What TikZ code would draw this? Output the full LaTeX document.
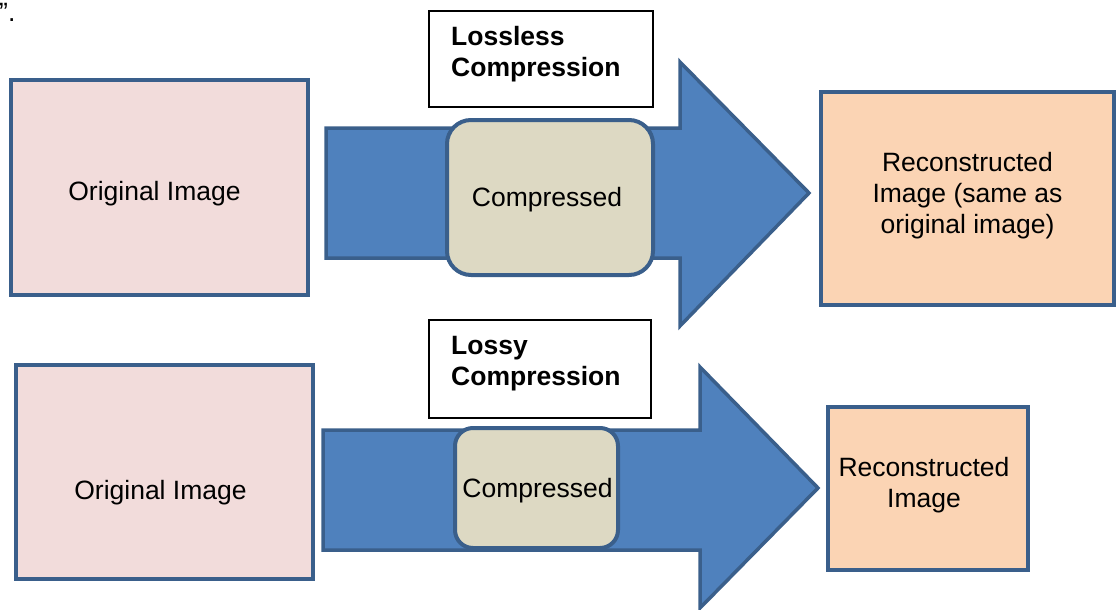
\documentclass[tikz,border=0pt]{standalone}
\usepackage{fontspec}
\setmainfont{Liberation Sans}
\usetikzlibrary{calc}
\definecolor{edgeblue}{HTML}{3A5F8B}
\definecolor{arrowblue}{HTML}{4F81BD}
\definecolor{pinkfill}{HTML}{F2DCDB}
\definecolor{peachfill}{HTML}{FBD4B4}
\definecolor{tanfill}{HTML}{DDD9C3}
\begin{document}
\begin{tikzpicture}[x=1pt,y=-1pt,
  every node/.style={font=\fontsize{26.5}{31}\selectfont, inner sep=0pt},
  every label/.style={font=\fontsize{26.5}{31}\selectfont, inner sep=0pt, align=center},
  imgbox/.style={draw=edgeblue, line width=3.2pt, rectangle},
  origbox/.style={imgbox, fill=pinkfill},
  reconbox/.style={imgbox, fill=peachfill},
  compbox/.style={draw=edgeblue, line width=4pt, fill=tanfill, rounded corners=#1},
  blockarrow/.style={draw=edgeblue, line width=3.5pt, fill=arrowblue, line join=miter},
  titlebox/.style={draw=black, line width=1.6pt, fill=white},
  titletext/.style={font=\fontsize{26.5}{31}\selectfont\bfseries, align=left, anchor=base west}
]
\useasboundingbox (0,0) rectangle (1116,610);

% trailing punctuation in the corner
\node[anchor=base west] (punct) at (-1,21.5) {”.};

% ---------- lossless row ----------
\node[origbox, minimum width=297, minimum height=215,
      label={[xshift=-5pt,yshift=-6.5pt]center:Original Image}] (orig1) at (159.5,187.5) {};

\draw[blockarrow] (326,128) -- (680,128) -- (680,62) -- (809,193)
  -- (680,326) -- (680,258) -- (326,258) -- cycle;

\node[compbox=24pt, minimum width=206, minimum height=155,
      label={[xshift=-3pt,yshift=-2pt]center:Compressed}] (comp1) at (550,197.5) {};

\node[titlebox, minimum width=224, minimum height=96] (lossless) at (541,59) {};
% anchored on the baseline of the last line
\node[titletext] (losslesstxt) at (451,77) {Lossless\\Compression};

\node[reconbox, minimum width=293, minimum height=213,
      label={[yshift=3pt]center:Reconstructed\\Image (same as\\original image)}] (recon1) at (967.5,198.5) {};

% ---------- lossy row ----------
\node[origbox, minimum width=297, minimum height=214,
      label={[xshift=-4pt,yshift=-21pt]center:Original Image}] (orig2) at (164.5,472) {};

\draw[blockarrow] (323,430) -- (700,430) -- (700,367) -- (818,488)
  -- (700,608) -- (700,550) -- (323,550) -- cycle;

\node[compbox=18pt, minimum width=163, minimum height=120,
      label={[xshift=1pt,yshift=-3pt]center:Compressed}] (comp2) at (536.5,488) {};

\node[titlebox, minimum width=222, minimum height=98] (lossy) at (540,369) {};
\node[titletext] (lossytxt) at (451,385.5) {Lossy\\Compression};

\node[reconbox, minimum width=200, minimum height=163,
      label={[xshift=-4pt,yshift=3pt]center:Reconstructed\\Image}] (recon2) at (928,488.5) {};
\end{tikzpicture}
\end{document}
